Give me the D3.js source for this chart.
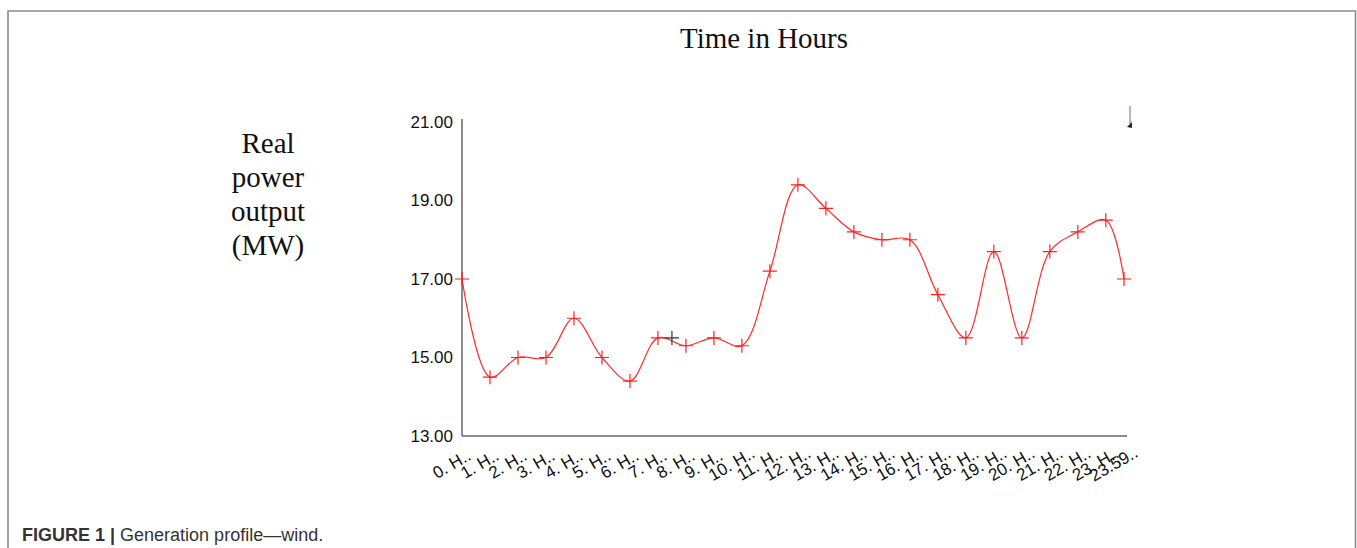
<!DOCTYPE html>
<html><head><meta charset="utf-8">
<script src="https://cdn.jsdelivr.net/npm/d3@7"></script>
<style>body{margin:0;background:#fff}svg{display:block}</style>
</head><body>
<svg id="c" width="1357" height="548"></svg>
<script>
// ---- data ----
const hours = [0,1,2,3,4,5,6,7,8,9,10,11,12,13,14,15,16,17,18,19,20,21,22,23,23.65];
const tickLabels = ["0. H..","1. H..","2. H..","3. H..","4. H..","5. H..","6. H..","7. H..","8. H..","9. H..","10. H..","11. H..","12. H..","13. H..","14. H..","15. H..","16. H..","17. H..","18. H..","19. H..","20. H..","21. H..","22. H..","23. H..","23.59.."];
const power = [17.0,14.5,15.0,15.0,16.0,15.0,14.4,15.5,15.3,15.5,15.3,17.2,19.4,18.8,18.2,18.0,18.0,16.6,15.5,17.7,15.5,17.7,18.2,18.5,17.0];
const cursorHour = [7.5];
const cursorPower = [15.5];
const yTicks = [13,15,17,19,21];

const svg = d3.select("#c");
const W = 1357, H = 548;
const m = {left:462, right:1124, top:122, bottom:436};

// frame
svg.append("path").attr("d", `M8,${H}V11H1355.5V${H}`).attr("fill","none").attr("stroke","#8a8a8a").attr("stroke-width",1.6);

const x = d3.scaleLinear().domain([0, d3.max(hours)]).range([m.left, m.right]);
const y = d3.scaleLinear().domain([13,21]).range([m.bottom, m.top]);

// titles
svg.append("text").attr("x",764).attr("y",48).attr("text-anchor","middle")
  .attr("font-family","Liberation Serif, Times New Roman, serif").attr("font-size",29).attr("fill","#111").text("Time in Hours");
const yl = ["Real","power","output","(MW)"];
svg.append("g").selectAll("text").data(yl).join("text")
  .attr("x",268).attr("y",(d,i)=>153+i*34).attr("text-anchor","middle")
  .attr("font-family","Liberation Serif, Times New Roman, serif").attr("font-size",29).attr("fill","#111").text(d=>d);

// y axis
const yAxis = d3.axisLeft(y).tickValues(yTicks).tickSize(0).tickPadding(9).tickFormat(d3.format(".2f"));
const gy = svg.append("g").attr("transform",`translate(${m.left},0)`).call(yAxis);
gy.select(".domain").attr("stroke","#666").attr("stroke-width",1.5).attr("d",`M0,${m.top-3}V${m.bottom}`);
gy.selectAll("text").attr("font-family","Liberation Sans, Arial, sans-serif").attr("font-size",17).attr("fill","#111");

// x axis
const xAxis = d3.axisBottom(x).tickValues(hours).tickSize(0).tickFormat((d,i)=>tickLabels[i]);
const gx = svg.append("g").attr("transform",`translate(0,${m.bottom})`).call(xAxis);
gx.select(".domain").attr("stroke","#666").attr("stroke-width",1.5).attr("d",`M${m.left},0H${m.right+3}`);
gx.selectAll("text").attr("font-family","Liberation Sans, Arial, sans-serif").attr("font-size",17).attr("fill","#111")
  .attr("text-anchor","middle").attr("dy",0).attr("y",0)
  .attr("transform","translate(-8,33) rotate(-30)");

// curve
const pts = hours.map((h,i)=>[x(h), y(power[i])]);
svg.append("path").datum(pts).attr("fill","none").attr("stroke","#ff2a2a").attr("stroke-width",1.2)
  .attr("d", d3.line().curve(d3.curveCatmullRom.alpha(0.5)));

// markers
const cross = (g, px, py, col) => {
  g.append("path").attr("d",`M${px-7},${py}H${px+7}M${px},${py-7}V${py+7}`).attr("stroke",col).attr("stroke-width",1.2).attr("fill","none");
};
const gm = svg.append("g");
pts.forEach(p=>cross(gm,p[0],p[1],"#ff2020"));
cursorHour.forEach((h,i)=>cross(gm,x(h),y(cursorPower[i]),"#333"));

// small legend artifact
svg.append("rect").attr("x",1129).attr("y",106).attr("width",2).attr("height",18).attr("fill","#aab8c8");
svg.append("path").attr("d","M1127,127L1132,122V128Z").attr("fill","#222");

// caption
const cap = svg.append("text").attr("x",22).attr("y",541).attr("font-family","Liberation Sans, Arial, sans-serif").attr("font-size",18).attr("fill","#333");
cap.append("tspan").attr("font-weight","bold").text("FIGURE 1 | ");
cap.append("tspan").text("Generation profile\u2014wind.");
</script>
</body></html>
